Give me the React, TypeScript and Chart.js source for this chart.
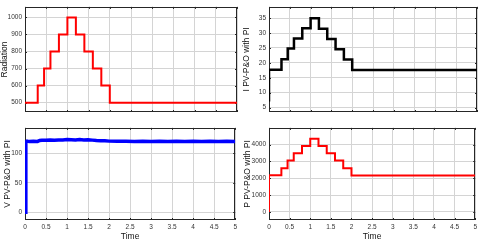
import React, { useEffect, useRef } from "react";
import { Chart, registerables } from "chart.js";
Chart.register(...registerables);

// ---- data ----
const stepTimes = [0, 0.3, 0.45, 0.6, 0.8, 1.0, 1.2, 1.4, 1.6, 1.8, 2.0, 5];
const radiationLevels = [500, 600, 700, 800, 900, 1000, 900, 800, 700, 600, 500, 500];
const currentLevels = [17.7, 21.2, 24.8, 28.2, 31.6, 35.0, 31.5, 28.0, 24.6, 21.1, 17.6, 17.6];
const powerLevels = [2180, 2600, 3050, 3480, 3920, 4340, 3920, 3480, 3050, 2600, 2170, 2170];
const currentStart = 7;
const powerStart = 0;

const voltageTimes = [0, 0.02, 0.05, 0.1, 0.2, 0.3, 0.35, 0.4, 0.5, 0.6, 0.7, 0.8, 0.9, 1.0, 1.1, 1.2, 1.3, 1.4, 1.5, 1.6, 1.7, 1.8, 1.9, 2.0, 2.2, 2.4, 2.6, 2.8, 3.0, 3.2, 3.4, 3.6, 3.8, 4.0, 4.2, 4.4, 4.6, 4.8, 5.0];
const voltageValues = [0, 119, 120.6, 119.8, 120.4, 120.1, 121.8, 122.2, 121.9, 122.4, 122.1, 122.7, 122.5, 123.2, 122.9, 122.6, 123.3, 122.7, 122.9, 122.3, 121.7, 121.4, 121.1, 120.6, 120.2, 120.5, 120.1, 120.4, 119.9, 120.3, 120.0, 120.4, 120.1, 120.3, 119.9, 120.2, 120.0, 120.3, 120.1];

const timeTicks = [0, 0.5, 1, 1.5, 2, 2.5, 3, 3.5, 4, 4.5, 5];
const radiationTicks = [500, 600, 700, 800, 900, 1000];
const currentTicks = [5, 10, 15, 20, 25, 30, 35];
const voltageTicks = [0, 50, 100];
const powerTicks = [0, 1000, 2000, 3000, 4000];

const FONT = "'Liberation Sans', Arial, Helvetica, sans-serif";
const TEXT = "#333333";
const GRID = "#d4d4d4";
const AXIS = "#262626";

const boxPlugin = {
  id: "box",
  beforeDatasetsDraw(chart: any) {
    const { ctx, chartArea: a, scales } = chart;
    ctx.save();
    ctx.strokeStyle = AXIS;
    ctx.lineWidth = 1;
    ctx.strokeRect(Math.round(a.left) + 0.5, Math.round(a.top) + 0.5, Math.round(a.right - a.left) - 1, Math.round(a.bottom - a.top) - 1);
    ctx.beginPath();
    const tl = 2;
    for (const t of scales.x.ticks) {
      const px = Math.round(scales.x.getPixelForValue(t.value)) + 0.5;
      ctx.moveTo(px, a.bottom);
      ctx.lineTo(px, a.bottom - tl);
      ctx.moveTo(px, a.top);
      ctx.lineTo(px, a.top + tl);
    }
    for (const t of scales.y.ticks) {
      const py = Math.round(scales.y.getPixelForValue(t.value)) + 0.5;
      ctx.moveTo(a.left, py);
      ctx.lineTo(a.left + tl, py);
      ctx.moveTo(a.right, py);
      ctx.lineTo(a.right - tl, py);
    }
    ctx.stroke();
    ctx.restore();
  },
};

type PlotProps = {
  left: number;
  top: number;
  width: number;
  height: number;
  yWidth: number;
  xHeight: number;
  padTop: number;
  padRight: number;
  points: { x: number; y: number }[];
  stepped: boolean;
  color: string;
  lineWidth: number;
  yMin: number;
  yMax: number;
  yTicks: number[];
  yTitle: string;
  yTitlePad: number;
  showX: boolean;
};

function Plot(p: PlotProps) {
  const ref = useRef<HTMLCanvasElement | null>(null);
  useEffect(() => {
    if (!ref.current) return;
    const chart = new Chart(ref.current, {
      type: "line",
      data: {
        datasets: [
          {
            data: p.points,
            borderColor: p.color,
            borderWidth: p.lineWidth,
            pointRadius: 0,
            stepped: p.stepped ? "before" : false,
            tension: 0,
            fill: false,
          } as any,
        ],
      },
      options: {
        animation: false,
        responsive: false,
        maintainAspectRatio: false,
        devicePixelRatio: 1,
        layout: { padding: { top: p.padTop, right: p.padRight, left: 0, bottom: 0 } },
        plugins: { legend: { display: false }, tooltip: { enabled: false } },
        scales: {
          x: {
            type: "linear",
            min: 0,
            max: 5,
            afterBuildTicks: (s: any) => {
              s.ticks = timeTicks.map((v) => ({ value: v }));
            },
            afterFit: (s: any) => {
              s.height = p.xHeight;
            },
            ticks: {
              display: p.showX,
              autoSkip: false,
              maxRotation: 0,
              padding: 3,
              color: TEXT,
              font: { family: FONT, size: 6.5 },
              callback: (v: any) => String(v),
            },
            grid: { color: GRID, drawTicks: false, lineWidth: 1 },
            border: { display: false },
            title: {
              display: p.showX,
              text: "Time",
              color: "#111",
              padding: 0,
              font: { family: FONT, size: 8.5, lineHeight: 1.2 },
            },
          },
          y: {
            type: "linear",
            min: p.yMin,
            max: p.yMax,
            afterBuildTicks: (s: any) => {
              s.ticks = p.yTicks.map((v) => ({ value: v }));
            },
            afterFit: (s: any) => {
              s.width = p.yWidth;
            },
            ticks: {
              autoSkip: false,
              padding: 3,
              color: TEXT,
              font: { family: FONT, size: 6.5 },
              callback: (v: any) => String(v),
            },
            grid: { color: GRID, drawTicks: false, lineWidth: 1 },
            border: { display: false },
            title: {
              display: true,
              text: p.yTitle,
              color: "#111",
              padding: { top: p.yTitlePad, bottom: 0 },
              font: { family: FONT, size: 8.5, lineHeight: 1.2 },
            },
          },
        },
      },
      plugins: [boxPlugin],
    });
    return () => chart.destroy();
  }, []);
  return (
    <canvas
      ref={ref}
      width={p.width}
      height={p.height}
      style={{ position: "absolute", left: p.left, top: p.top, width: p.width, height: p.height, display: "block" }}
    />
  );
}

function stepPoints(times: number[], levels: number[], start?: number) {
  const pts: { x: number; y: number }[] = [];
  if (start !== undefined) pts.push({ x: 0, y: start });
  times.forEach((t, i) => pts.push({ x: t, y: levels[i] }));
  return pts;
}

export default function App() {
  const radiationPts = stepPoints(stepTimes, radiationLevels);
  const currentPts = stepPoints(stepTimes, currentLevels, currentStart);
  const powerPts = stepPoints(stepTimes, powerLevels, powerStart);
  const voltagePts = voltageTimes.map((t, i) => ({ x: t, y: voltageValues[i] }));
  return (
    <div style={{ position: "fixed", left: 0, top: 0, width: 480, height: 242, background: "#ffffff", overflow: "hidden" }}>
      <Plot left={0} top={0} width={240} height={121} yWidth={25} xHeight={9} padTop={2} padRight={3}
        points={radiationPts} stepped color="#ff0000" lineWidth={2} yMin={445} yMax={1062}
        yTicks={radiationTicks} yTitle="Radiation" yTitlePad={0} showX={false} />
      <Plot left={240} top={0} width={240} height={121} yWidth={29} xHeight={9} padTop={2} padRight={3}
        points={currentPts} stepped color="#000000" lineWidth={2.5} yMin={3.5} yMax={38.8}
        yTicks={currentTicks} yTitle="I PV-P&O with PI" yTitlePad={2} showX={false} />
      <Plot left={0} top={121} width={240} height={121} yWidth={25} xHeight={22} padTop={3} padRight={3}
        points={voltagePts} stepped={false} color="#0000ff" lineWidth={3.5} yMin={-13} yMax={143}
        yTicks={voltageTicks} yTitle="V PV-P&O with PI" yTitlePad={3} showX={true} />
      <Plot left={240} top={121} width={240} height={121} yWidth={29} xHeight={22} padTop={3} padRight={3}
        points={powerPts} stepped color="#ff0000" lineWidth={2} yMin={-480} yMax={4990}
        yTicks={powerTicks} yTitle="P PV-P&O with PI" yTitlePad={3} showX={true} />
    </div>
  );
}
